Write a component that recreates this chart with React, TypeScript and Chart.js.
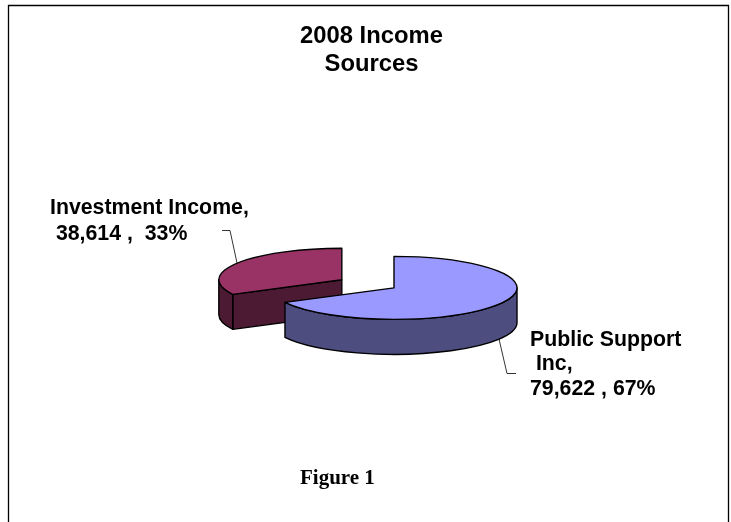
import React, { useEffect, useRef } from "react";
import { Chart, registerables } from "chart.js";

Chart.register(...registerables);

// Income sources for 2008
const categories = ["Public Support Inc", "Investment Income"];
const incomeValues = [79622, 38614];
const topColors = ["#9999ff", "#993366"];
const wallColors = ["#4d4d80", "#4d1a33"];
const titleLines = ["2008 Income", "Sources"];
const captionText = "Figure 1";
const sliceLabels = [
  ["Public Support", " Inc,", "79,622 , 67%"],
  ["Investment Income,", " 38,614 ,  33%"],
];

const SQUASH = 31.5 / 123;
const DEPTH = 35;
const EXPLODE = [0, 61];
const PIE_SHIFT_X = 22.5;
const LABEL_FONT = "bold 21.3px 'Liberation Sans', Arial, sans-serif";
const CAPTION_FONT = "bold 21px 'Liberation Serif', 'Times New Roman', serif";

const pie3d = {
  id: "pie3d",
  // Replaces the flat arc drawing with a tilted, extruded version of the same arc elements.
  beforeDatasetsDraw(chart: any) {
    const { ctx } = chart;
    const arcs = chart.getDatasetMeta(0).data as any[];

    ctx.save();
    ctx.strokeStyle = "#000";
    ctx.lineWidth = 1.3;
    ctx.beginPath();
    ctx.rect(8.5, 5.5, 720, 530);
    ctx.stroke();
    ctx.restore();

    // The exploded slice sits behind the full one, so paint back to front.
    [1, 0].forEach((i) => {
      const arc = arcs[i];
      const { x, y, startAngle, endAngle, outerRadius: r } = arc.getProps(
        ["x", "y", "startAngle", "endAngle", "outerRadius"],
        true
      );
      const mid = (startAngle + endAngle) / 2;
      const cx = x + PIE_SHIFT_X + Math.cos(mid) * EXPLODE[i];
      const cy = y + Math.sin(mid) * EXPLODE[i] * SQUASH;

      const px = (a: number) => cx + Math.cos(a) * r;
      const py = (a: number) => cy + Math.sin(a) * r * SQUASH;

      ctx.save();
      ctx.lineWidth = 1.4;
      ctx.lineJoin = "round";
      ctx.strokeStyle = "#000";
      ctx.fillStyle = wallColors[i];

      // Radial cut face of the exploded slice, which turns towards the viewer.
      if (i === 1) {
        ctx.beginPath();
        ctx.moveTo(cx, cy);
        ctx.lineTo(px(startAngle), py(startAngle));
        ctx.lineTo(px(startAngle), py(startAngle) + DEPTH);
        ctx.lineTo(cx, cy + DEPTH);
        ctx.closePath();
        ctx.fill();
        ctx.stroke();
      }

      // Curved outer wall over the front half of the ellipse.
      const a0 = Math.max(startAngle, 0);
      const a1 = Math.min(endAngle, Math.PI);
      if (a1 > a0) {
        ctx.beginPath();
        ctx.ellipse(cx, cy, r, r * SQUASH, 0, a0, a1);
        ctx.lineTo(px(a1), py(a1) + DEPTH);
        ctx.ellipse(cx, cy + DEPTH, r, r * SQUASH, 0, a1, a0, true);
        ctx.closePath();
        ctx.fill();
        ctx.stroke();
      }

      // Top face from the chart's own arc element.
      ctx.save();
      ctx.translate(cx, cy);
      ctx.scale(1, SQUASH);
      ctx.translate(-x, -y);
      arc.draw(ctx);
      ctx.restore();

      ctx.beginPath();
      ctx.moveTo(cx, cy);
      ctx.ellipse(cx, cy, r, r * SQUASH, 0, startAngle, endAngle);
      ctx.closePath();
      ctx.stroke();
      ctx.restore();
    });

    return false;
  },
  afterDraw(chart: any) {
    const { ctx } = chart;
    ctx.save();
    // Leader lines running from each slice to its label.
    ctx.strokeStyle = "#000";
    ctx.lineWidth = 0.8;
    ctx.beginPath();
    ctx.moveTo(222, 230.5);
    ctx.lineTo(230, 230.5);
    ctx.lineTo(237, 263);
    ctx.moveTo(499, 339);
    ctx.lineTo(507, 373.5);
    ctx.lineTo(516, 373.5);
    ctx.stroke();

    ctx.fillStyle = "#000";
    ctx.textBaseline = "alphabetic";
    ctx.font = LABEL_FONT;
    sliceLabels[1].forEach((t, k) => ctx.fillText(t, 50, 214 + k * 26));
    sliceLabels[0].forEach((t, k) => ctx.fillText(t, 530, 345.5 + k * 24.5));
    ctx.font = CAPTION_FONT;
    ctx.fillText(captionText, 300, 484);
    ctx.restore();
  },
};

export default function App() {
  const ref = useRef<HTMLCanvasElement>(null);

  useEffect(() => {
    document.body.style.margin = "0";
    const chart = new Chart(ref.current!, {
      type: "pie",
      data: {
        labels: categories,
        datasets: [
          {
            data: incomeValues,
            backgroundColor: topColors,
            borderWidth: 0,
          },
        ],
      },
      plugins: [pie3d],
      options: {
        responsive: false,
        animation: false,
        radius: 123,
        rotation: 0,
        layout: { padding: { top: 0, bottom: 25, left: 12, right: 0 } },
        plugins: {
          legend: { display: false },
          tooltip: { enabled: false },
          title: {
            display: true,
            text: titleLines,
            color: "#000",
            align: "center",
            padding: { top: 23, bottom: 0 },
            font: { family: "'Liberation Sans', Arial, sans-serif", size: 23.8, weight: "bold", lineHeight: 1.17 },
          },
        },
      } as any,
    });
    return () => chart.destroy();
  }, []);

  return <canvas ref={ref} width={731} height={522} style={{ display: "block" }} />;
}
